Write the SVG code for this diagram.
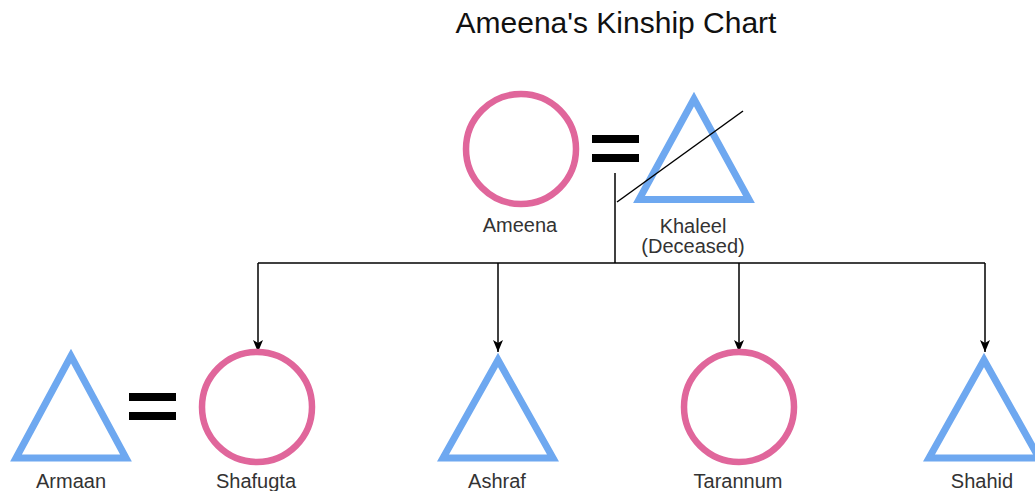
<svg xmlns="http://www.w3.org/2000/svg" width="1035" height="491" viewBox="0 0 1035 491">
<defs>
<style>
.f{fill:none;stroke:#E0669B;stroke-width:6.5}
.m{fill:none;stroke:#6EA8F0;stroke-width:7;stroke-linejoin:miter}
.eq{fill:#000}
.t{font-family:"Liberation Sans",Arial,sans-serif;font-size:20px;fill:#333;text-anchor:middle}
.c{fill:none;stroke:#000;stroke-width:1.5}
</style>
<marker id="ah" viewBox="0 0 12 10" refX="12" refY="5" markerWidth="12" markerHeight="10" markerUnits="userSpaceOnUse" orient="auto">
<path d="M0,0 L12,5 L0,10 L3,5 Z" fill="#000"/>
</marker>
</defs>
<rect width="1035" height="491" fill="#fff"/>
<text x="616" y="33" style="font-family:'Liberation Sans',Arial,sans-serif;font-size:30px;fill:#111;text-anchor:middle">Ameena's Kinship Chart</text>

<g id="connectors">
<line class="c" x1="615" y1="173" x2="615" y2="263"/>
<line class="c" x1="258" y1="263" x2="985" y2="263"/>
<path class="c" d="M258,263 V352" marker-end="url(#ah)"/>
<path class="c" d="M498,263 V352" marker-end="url(#ah)"/>
<path class="c" d="M739,263 V352" marker-end="url(#ah)"/>
<path class="c" d="M985,263 V352" marker-end="url(#ah)"/>
</g>

<g id="ameena">
<circle class="f" cx="521" cy="149" r="55"/>
<text class="t" x="520" y="232">Ameena</text>
</g>
<g id="marriage-top">
<rect class="eq" x="592" y="135" width="47" height="8"/>
<rect class="eq" x="592" y="154" width="47" height="8"/>
</g>
<g id="khaleel">
<path class="m" d="M694,99 L639,199.5 L749,199.5 Z"/>
<line x1="617" y1="202" x2="743" y2="111" stroke="#000" stroke-width="1.5"/>
<text class="t" x="693" y="233">Khaleel</text>
<text class="t" x="693" y="253">(Deceased)</text>
</g>

<g id="armaan">
<path class="m" d="M71,356 L16,458 L126,458 Z"/>
<text class="t" x="71" y="488">Armaan</text>
</g>
<g id="marriage-bottom">
<rect class="eq" x="129" y="393" width="47" height="8"/>
<rect class="eq" x="129" y="412" width="47" height="8"/>
</g>
<g id="shafugta">
<circle class="f" cx="257" cy="407" r="55"/>
<text class="t" x="256" y="488">Shafugta</text>
</g>
<g id="ashraf">
<path class="m" d="M498,360 L443,458 L553,458 Z"/>
<text class="t" x="497" y="488">Ashraf</text>
</g>
<g id="tarannum">
<circle class="f" cx="739" cy="407" r="55"/>
<text class="t" x="738" y="488">Tarannum</text>
</g>
<g id="shahid">
<path class="m" d="M984,360 L929,458 L1039,458 Z"/>
<text class="t" x="982" y="488">Shahid</text>
</g>
</svg>
